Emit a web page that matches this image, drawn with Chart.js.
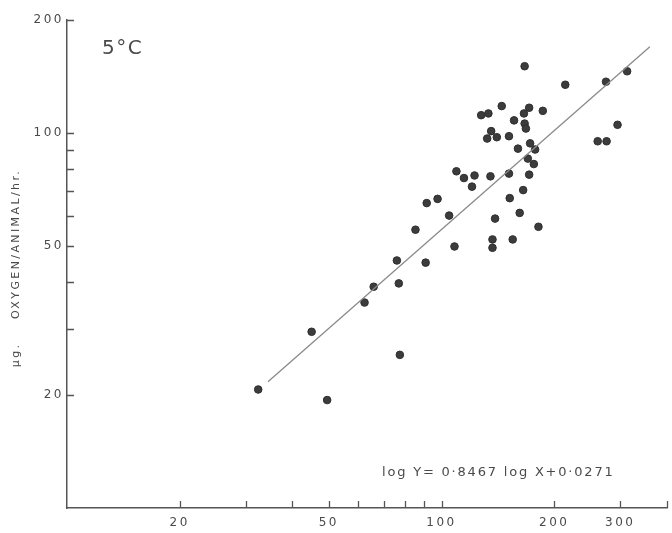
<!DOCTYPE html>
<html><head><meta charset="utf-8">
<script src="https://cdn.jsdelivr.net/npm/chart.js@4/dist/chart.umd.min.js"></script>
<style>html,body{margin:0;padding:0;background:#fff;}canvas{display:block;}</style>
</head><body>
<canvas id="c" width="672" height="533"></canvas>
<script>
// Scatter values (log-log axes)
const animalSize = [166.7, 214.0, 274.9, 313.0, 144.8, 171.4, 166.0, 186.4, 127.6, 133.4,
  156.2, 166.7, 168.0, 135.7, 132.4, 140.5, 151.4, 295.1, 261.2, 275.9,
  172.4, 160.0, 177.8, 170.0, 176.4, 109.6, 114.8, 122.5, 135.1, 151.4,
  171.4, 120.6, 165.2, 91.3, 97.6, 152.1, 104.8, 161.7, 139.0, 85.2,
  181.5, 136.8, 154.9, 108.3, 136.8, 76.0, 90.7, 65.9, 62.3, 76.9,
  77.4, 45.0, 32.4, 49.5];
const oxygenUptake = [150.6, 134.4, 136.9, 146.0, 117.9, 116.7, 112.7, 114.5, 111.5, 112.7,
  108.0, 105.9, 102.7, 101.1, 96.6, 97.4, 98.0, 105.1, 95.0, 95.0,
  93.8, 90.8, 90.3, 85.4, 82.6, 79.0, 75.8, 77.0, 76.6, 77.9,
  77.4, 71.9, 70.4, 65.0, 66.7, 67.0, 60.2, 61.2, 59.1, 55.2,
  56.2, 52.0, 52.0, 49.8, 49.4, 45.7, 45.1, 38.9, 35.3, 39.7,
  25.6, 29.5, 20.7, 19.4];
// Regression line end points
const fitX = [34.4, 360];
const fitY = [21.7, 169.6];
// Axis ticks
const xTickValues = [20, 30, 40, 50, 60, 70, 80, 90, 100, 200, 300, 400];
const xTickLabels = [20, 50, 100, 200, 300];
const yTickValues = [20, 30, 40, 50, 60, 70, 80, 90, 100, 200];
const yTickLabels = [20, 50, 100, 200];
const panelLabel = '5\u00B0C';
const equationText = 'log Y= 0\u00B78467 log X+0\u00B70271';
const yTitle = '\u03BCg.    OXYGEN/ANIMAL/hr.';

const points = animalSize.map((v, i) => ({x: v, y: oxygenUptake[i]}));
const fitLine = fitX.map((v, i) => ({x: v, y: fitY[i]}));

const textColor = '#4a4a4a';
const axisColor = '#555';
const targetRight = 670;

const deco = {
  id: 'deco',
  beforeDraw(chart) {
    chart.ctx.letterSpacing = '2.5px';
  },
  beforeDatasetsDraw(chart) {
    const {ctx, scales: {x, y}, chartArea: a} = chart;
    ctx.save();
    ctx.letterSpacing = '0px';
    ctx.strokeStyle = axisColor;
    ctx.lineWidth = 1.3;
    ctx.beginPath();
    x.ticks.forEach(t => {
      const px = Math.round(x.getPixelForValue(t.value)) + 0.5;
      ctx.moveTo(px, a.bottom); ctx.lineTo(px, a.bottom - 7);
    });
    y.ticks.forEach(t => {
      const py = Math.round(y.getPixelForValue(t.value)) + 0.5;
      ctx.moveTo(a.left, py); ctx.lineTo(a.left + 7, py);
    });
    ctx.stroke();
    ctx.restore();
  },
  afterDraw(chart) {
    const ctx = chart.ctx;
    ctx.save();
    ctx.fillStyle = textColor;
    ctx.letterSpacing = '1.5px';
    ctx.font = '20px "DejaVu Sans"';
    ctx.textAlign = 'left';
    ctx.textBaseline = 'alphabetic';
    ctx.fillText(panelLabel, 102, 54);
    ctx.letterSpacing = '1.8px';
    ctx.font = '13px "DejaVu Sans"';
    ctx.fillText(equationText, 382, 476);
    ctx.translate(19, 268);
    ctx.rotate(-Math.PI / 2);
    ctx.textAlign = 'center';
    ctx.letterSpacing = '2.4px';
    ctx.font = '11px "DejaVu Sans"';
    ctx.fillText(yTitle, 0, 0);
    ctx.restore();
    ctx.letterSpacing = '0px';
  }
};

const chart = new Chart(document.getElementById('c'), {
  data: {
    datasets: [
      {type: 'line', data: fitLine, borderColor: '#8a8a8a', borderWidth: 1.3, pointRadius: 0, fill: false, tension: 0},
      {type: 'scatter', data: points, backgroundColor: '#3c3c3c', borderColor: '#2e2e2e', borderWidth: 1, pointRadius: 3.8}
    ]
  },
  options: {
    responsive: false,
    animation: false,
    events: [],
    layout: {padding: {left: 0, top: 20, right: 0, bottom: 0}},
    plugins: {legend: {display: false}, tooltip: {enabled: false}},
    scales: {
      x: {
        type: 'logarithmic', min: 10, max: 400,
        afterBuildTicks: s => { s.ticks = xTickValues.map(v => ({value: v})); },
        afterFit: s => { s.height = 25; s.paddingRight = 0; },
        grid: {drawOnChartArea: false, drawTicks: false},
        border: {display: true, color: axisColor, width: 1.5},
        ticks: {autoSkip: false, maxRotation: 0, padding: 8, color: textColor,
          font: {family: 'DejaVu Sans', size: 12},
          callback: v => xTickLabels.includes(v) ? String(v) : ''}
      },
      y: {
        type: 'logarithmic', min: 10, max: 200,
        afterBuildTicks: s => { s.ticks = yTickValues.map(v => ({value: v})); },
        afterFit: s => { s.width = 67; },
        grid: {drawOnChartArea: false, drawTicks: false},
        border: {display: true, color: axisColor, width: 1.5},
        ticks: {autoSkip: false, padding: 3, color: textColor,
          font: {family: 'DejaVu Sans', size: 12},
          callback: v => yTickLabels.includes(v) ? String(v) : ''}
      }
    }
  },
  plugins: [deco]
});
// Nudge the right padding so the plot area ends where the reference's does
for (let i = 0; i < 3; i++) {
  const diff = targetRight - chart.chartArea.right;
  if (Math.abs(diff) < 0.5) break;
  chart.options.layout.padding.right -= diff;
  chart.update();
}
</script>
</body></html>
